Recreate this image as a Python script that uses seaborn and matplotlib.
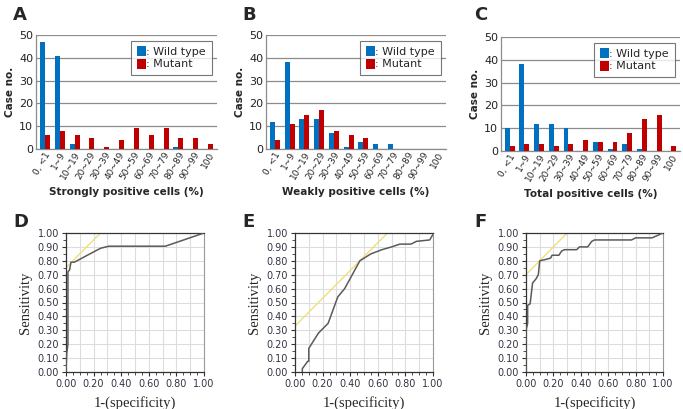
import numpy as np
import pandas as pd
import matplotlib
matplotlib.use("Agg")
import matplotlib.pyplot as plt
import seaborn as sns
from matplotlib.ticker import MultipleLocator

categories = ["0, <1", "1~9", "10~19", "20~29", "30~39", "40~49", "50~59",
              "60~69", "70~79", "80~89", "90~99", "100"]
a_wild = [47, 41, 2, 0, 0, 0, 0, 0, 0, 1, 0, 0]
a_mut = [6, 8, 6, 5, 1, 4, 9, 6, 9, 5, 5, 2]
b_wild = [12, 38, 13, 13, 7, 1, 3, 2, 2, 0, 0, 0]
b_mut = [4, 11, 15, 17, 8, 6, 5, 0, 0, 0, 0, 0]
c_wild = [10, 38, 12, 12, 10, 0, 4, 1, 3, 1, 0, 0]
c_mut = [2, 3, 3, 2, 3, 5, 4, 4, 8, 14, 16, 2]
xlabels_bar = ["Strongly positive cells (%)", "Weakly positive cells (%)", "Total positive cells (%)"]
groups = [": Wild type", ": Mutant"]

d_x = [0, 0.005, 0.014, 0.014, 0.026, 0.036, 0.06, 0.25, 0.31, 0.72, 1.0]
d_y = [0, 0.13, 0.20, 0.72, 0.735, 0.79, 0.79, 0.89, 0.905, 0.905, 1.0]
d_ref = [0.75, 1.0]
e_x = [0.053, 0.053, 0.092, 0.10, 0.10, 0.17, 0.24, 0.31, 0.36, 0.47, 0.55, 0.63, 0.70, 0.76,
       0.84, 0.88, 0.976, 1.0]
e_y = [0.0, 0.024, 0.077, 0.077, 0.17, 0.28, 0.35, 0.54, 0.60, 0.80, 0.85, 0.88, 0.90, 0.92,
       0.92, 0.94, 0.95, 0.99]
e_ref = [0.33, 1.0]
f_x = [0, 0, 0.012, 0.012, 0.03, 0.048, 0.073, 0.09, 0.10, 0.145, 0.18, 0.19, 0.24, 0.26,
       0.28, 0.37, 0.39, 0.45, 0.48, 0.50, 0.77, 0.80, 0.92, 1.0]
f_y = [0, 0.30, 0.35, 0.48, 0.49, 0.64, 0.67, 0.70, 0.80, 0.81, 0.82, 0.84, 0.84, 0.87,
       0.88, 0.88, 0.90, 0.90, 0.94, 0.95, 0.95, 0.965, 0.965, 1.0]
f_ref = [0.70, 1.0]

sns.set_theme(style="white")
plt.rcParams["font.family"] = ["DejaVu Sans"]

W, H = 683, 409
fig = plt.figure(figsize=(W / 100, H / 100), dpi=100)


def px_axes(l, r, t, b):
    return fig.add_axes([l / W, 1 - b / H, (r - l) / W, (b - t) / H])


blue = "#0070C0"
red = "#C00000"

bar_boxes = [(36, 217, 35, 149), (266, 446, 35, 149), (501, 680, 37, 151)]
bar_data = [(a_wild, a_mut), (b_wild, b_mut), (c_wild, c_mut)]
for (l, r, t, b), (wv, mv), xl in zip(bar_boxes, bar_data, xlabels_bar):
    ax = px_axes(l, r, t, b)
    df = pd.DataFrame({
        "cat": categories * 2,
        "val": list(wv) + list(mv),
        "grp": [groups[0]] * len(categories) + [groups[1]] * len(categories),
    })
    sns.barplot(data=df, x="cat", y="val", hue="grp", palette=[blue, red],
                width=0.68, gap=0, ax=ax, saturation=1, zorder=3,
                linewidth=0, edgecolor="none")
    ax.set_ylim(0, 50)
    ax.set_yticks(range(0, 51, 10))
    ax.yaxis.grid(True, color="#8c8c8c", lw=0.9)
    ax.set_axisbelow(True)
    for s in ["top", "right"]:
        ax.spines[s].set_visible(False)
    for s in ["left", "bottom"]:
        ax.spines[s].set_color("#8c8c8c")
        ax.spines[s].set_linewidth(0.9)
    ax.tick_params(axis="y", labelsize=8, pad=2, length=0, labelcolor="#222222")
    ax.tick_params(axis="x", labelsize=6.5, pad=1, length=0)
    plt.setp(ax.get_xticklabels(), rotation=60, ha="right", rotation_mode="anchor")
    ax.set_xlabel(xl, fontsize=7.5, fontweight="bold", labelpad=4)
    ax.set_ylabel("Case no.", fontsize=7.5, fontweight="bold", labelpad=3)
    ax.set_xlim(-0.6, 11.6)
    leg = ax.legend(loc="upper right", bbox_to_anchor=(0.97, 0.95), fontsize=8,
                    frameon=True, fancybox=False, edgecolor="#555555", handlelength=0.8,
                    handleheight=1.0, handletextpad=0.05, borderpad=0.5, labelspacing=0.15,
                    borderaxespad=0)
    leg.get_frame().set_linewidth(0.8)
    leg.set_title(None)

roc_boxes = [(66, 204, 233, 372), (295, 433, 233, 372), (526, 663, 233, 372)]
roc_data = [(d_x, d_y, d_ref), (e_x, e_y, e_ref), (f_x, f_y, f_ref)]
for (l, r, t, b), (xs, ys, ref) in zip(roc_boxes, roc_data):
    ax = px_axes(l, r, t, b)
    ax.set_xlim(0, 1)
    ax.set_ylim(0, 1)
    x_end = (ref[1] - ref[0])
    sns.lineplot(x=[0, x_end], y=ref, color="#EEE07A", lw=1.0, ax=ax, sort=False,
                 estimator=None, zorder=2)
    sns.lineplot(x=xs, y=ys, color="#5a5a5a", lw=1.1, ax=ax, sort=False,
                 estimator=None, zorder=3)
    ax.xaxis.set_major_locator(MultipleLocator(0.2))
    ax.xaxis.set_minor_locator(MultipleLocator(0.05))
    ax.yaxis.set_major_locator(MultipleLocator(0.1))
    ax.yaxis.set_minor_locator(MultipleLocator(0.05))
    for v in np.arange(0.1, 1.0, 0.1):
        ax.axvline(v, color="#dddddd", lw=0.8, zorder=0)
        ax.axhline(v, color="#dddddd", lw=0.8, zorder=0)
    ax.set_xticklabels([f"{v:.2f}" for v in ax.get_xticks()])
    ax.set_yticklabels([f"{v:.2f}" for v in ax.get_yticks()])
    ax.set_xlim(0, 1)
    ax.set_ylim(0, 1)
    ax.tick_params(which="both", direction="out", color="#333333", labelsize=7,
                   labelcolor="#333344", bottom=True, left=True)
    ax.tick_params(which="major", length=3, width=0.8, pad=2)
    ax.tick_params(which="minor", length=2, width=0.6)
    for s in ["left", "bottom", "top"]:
        ax.spines[s].set_color("#333333")
        ax.spines[s].set_linewidth(0.9)
    ax.spines["right"].set_color("#999999")
    ax.spines["right"].set_linewidth(0.8)
    ax.set_xlabel("1-(specificity)", fontsize=10.5, family=["Liberation Serif"], labelpad=5)
    ax.set_ylabel("Sensitivity", fontsize=10.5, family=["Liberation Serif"], labelpad=4)

for lab, x, y in [("A", 13, 15), ("B", 242, 15), ("C", 474, 15),
                  ("D", 13, 222), ("E", 242, 222), ("F", 474, 222)]:
    fig.text(x / W, 1 - y / H, lab, fontsize=13, fontweight="bold", va="center", ha="left")

fig.savefig("out.png", dpi=100)
